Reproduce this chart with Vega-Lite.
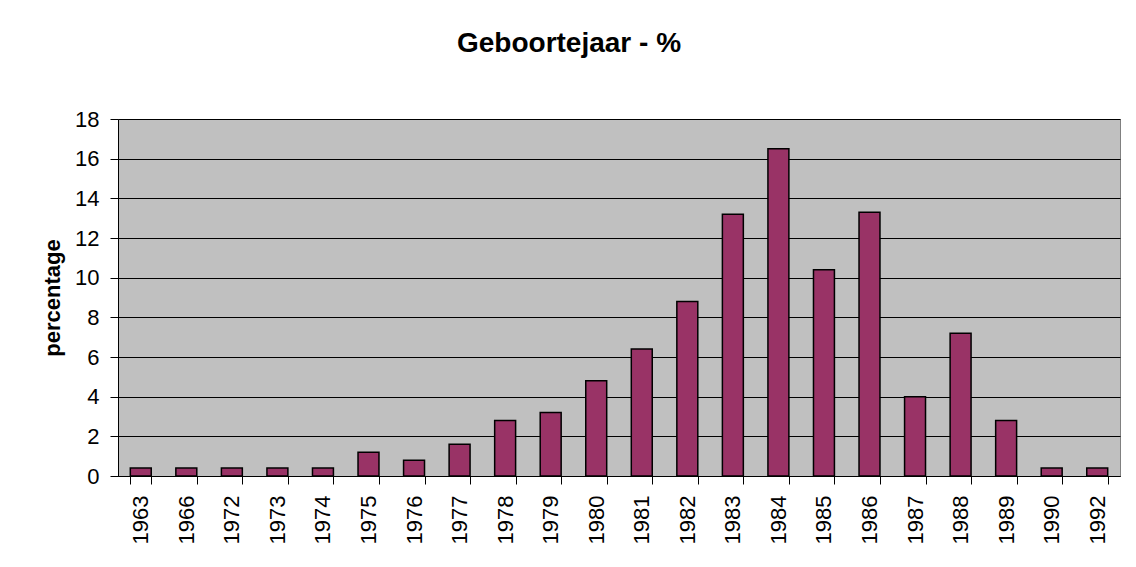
{
  "$schema": "https://vega.github.io/schema/vega-lite/v6.json",
  "width": 1002,
  "height": 357,
  "autosize": {"type": "none"},
  "padding": {"left": 118, "top": 119, "right": 16, "bottom": 91},
  "background": "white",
  "title": {
    "text": "Geboortejaar - %",
    "font": "Liberation Sans",
    "fontSize": 28,
    "fontWeight": "bold",
    "color": "black",
    "anchor": "middle",
    "dx": -50,
    "offset": 50
  },
  "data": {
    "values": [
      {"jaar": "1963", "pct": 0.4},
      {"jaar": "1966", "pct": 0.4},
      {"jaar": "1972", "pct": 0.4},
      {"jaar": "1973", "pct": 0.4},
      {"jaar": "1974", "pct": 0.4},
      {"jaar": "1975", "pct": 1.2},
      {"jaar": "1976", "pct": 0.8},
      {"jaar": "1977", "pct": 1.6},
      {"jaar": "1978", "pct": 2.8},
      {"jaar": "1979", "pct": 3.2},
      {"jaar": "1980", "pct": 4.8},
      {"jaar": "1981", "pct": 6.4},
      {"jaar": "1982", "pct": 8.8},
      {"jaar": "1983", "pct": 13.2},
      {"jaar": "1984", "pct": 16.5},
      {"jaar": "1985", "pct": 10.4},
      {"jaar": "1986", "pct": 13.3},
      {"jaar": "1987", "pct": 4.0},
      {"jaar": "1988", "pct": 7.2},
      {"jaar": "1989", "pct": 2.8},
      {"jaar": "1990", "pct": 0.4},
      {"jaar": "1992", "pct": 0.4}
    ]
  },
  "mark": {"type": "bar", "color": "#993366", "stroke": "black", "strokeWidth": 1.5},
  "encoding": {
    "x": {
      "field": "jaar",
      "type": "ordinal",
      "sort": null,
      "scale": {"paddingInner": 0.54, "paddingOuter": 0.27},
      "axis": {
        "title": null,
        "labelAngle": -90,
        "labelAlign": "right",
        "labelBaseline": "middle",
        "labelFont": "Liberation Sans",
        "labelFontSize": 22,
        "labelColor": "black",
        "labelPadding": 11,
        "tickBand": "extent",
        "tickSize": 8,
        "tickColor": "black",
        "domainColor": "black",
        "grid": false
      }
    },
    "y": {
      "field": "pct",
      "type": "quantitative",
      "scale": {"domain": [0, 18], "nice": false},
      "axis": {
        "title": "percentage",
        "titleFont": "Liberation Sans",
        "titleFontSize": 22,
        "titleFontWeight": "bold",
        "titleColor": "black",
        "titlePadding": 10,
        "values": [0, 2, 4, 6, 8, 10, 12, 14, 16, 18],
        "labelFont": "Liberation Sans",
        "labelFontSize": 22,
        "labelColor": "black",
        "labelPadding": 11,
        "tickSize": 8,
        "tickColor": "black",
        "domainColor": "black",
        "grid": true,
        "gridColor": "black",
        "gridOpacity": 1,
        "gridWidth": 1
      }
    }
  },
  "config": {
    "view": {"fill": "#C0C0C0", "stroke": "#808080", "strokeWidth": 1}
  }
}
